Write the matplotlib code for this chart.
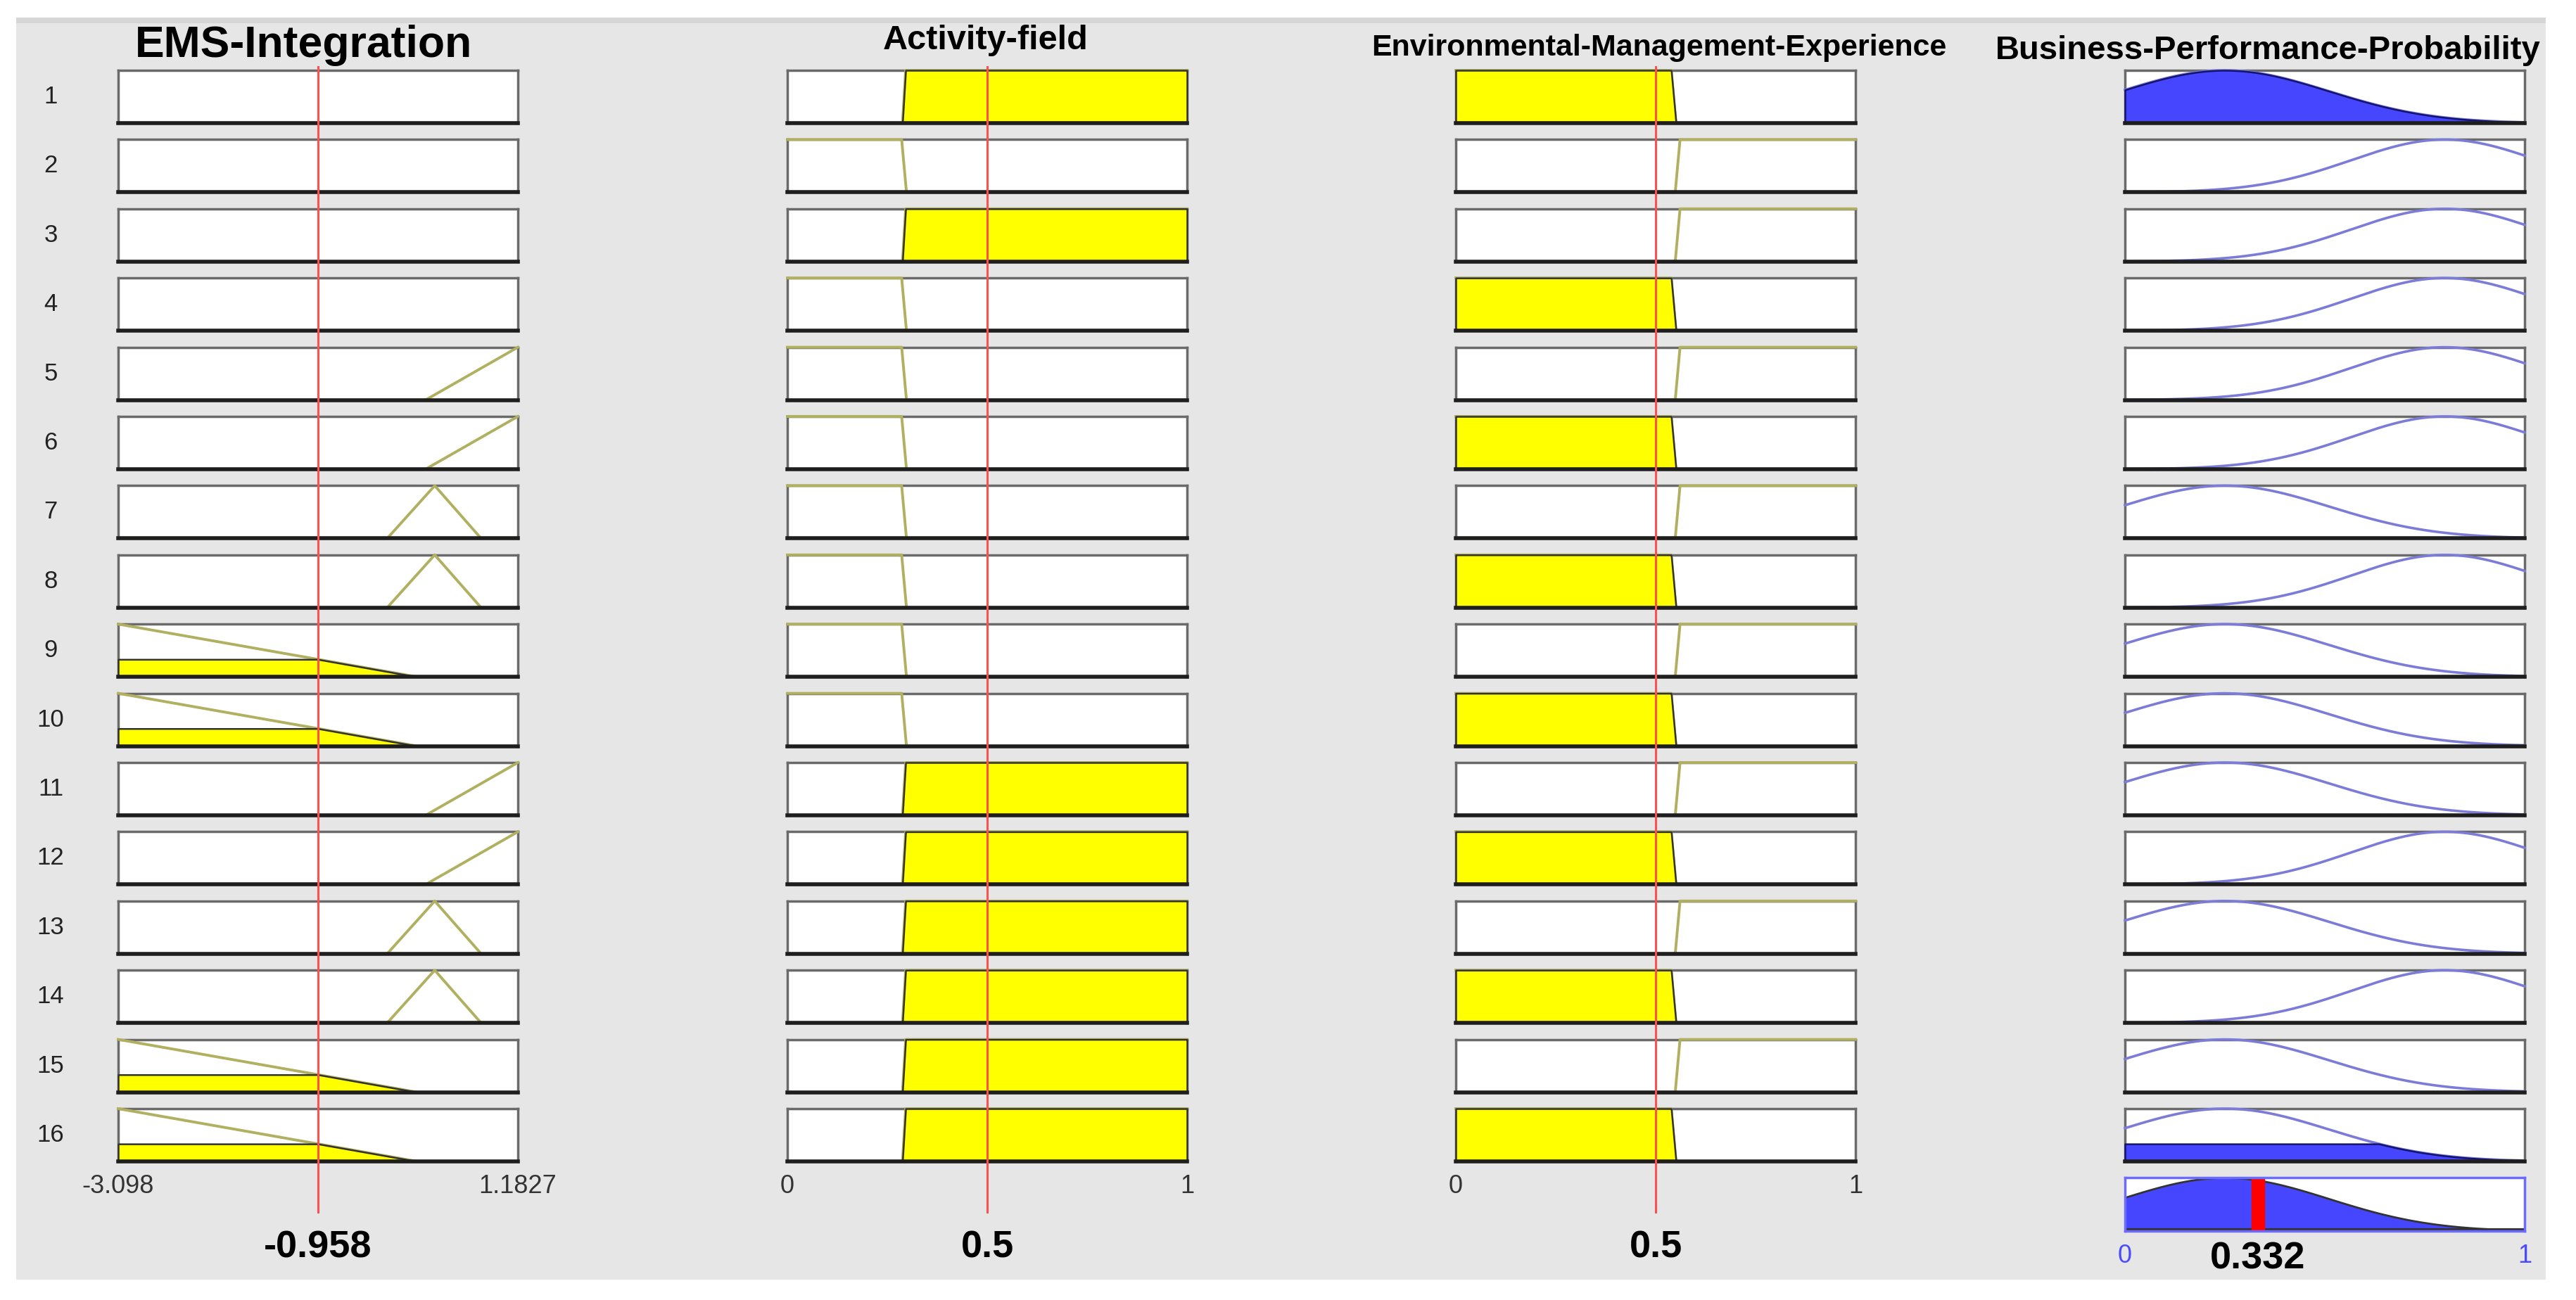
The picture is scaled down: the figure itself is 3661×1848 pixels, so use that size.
import numpy as np
import matplotlib
matplotlib.use('Agg')
from matplotlib import pyplot as plt
from matplotlib.patches import Rectangle

plt.rcParams['font.family'] = ['Liberation Sans', 'DejaVu Sans']

W, H = 3662, 1848

### variables of the fuzzy system
var_names = ['EMS-Integration', 'Activity-field',
             'Environmental-Management-Experience', 'Business-Performance-Probability']
ranges = [(-3.098, 1.1827), (0, 1), (0, 1), (0, 1)]
tick_text = [['-3.098', '1.1827'], ['0', '1'], ['0', '1'], ['0', '1']]
inputs = [-0.958, 0.5, 0.5]
input_text = ['-0.958', '0.5', '0.5']
output_value = 0.332
output_text = '0.332'

### membership functions
ems_mfs = {1: ('tri', [-7.3, -3.098, 0.104]),
           2: ('tri', [-0.217, 0.292, 0.789]),
           3: ('tri', [0.194, 1.1827, 2.17])}
act_mfs = {1: ('trap', [-1, 0, 0.286, 0.298]),
           2: ('trap', [0.288, 0.296, 1, 2])}
env_mfs = {1: ('trap', [-1, 0, 0.539, 0.551]),
           2: ('trap', [0.549, 0.561, 1, 2])}
out_mfs = {1: ('gauss', [0.26, 0.25]),
           2: ('gauss', [0.235, 0.80])}

### rule base, 0 = input not used in the rule
rule_ems = [0, 0, 0, 0, 3, 3, 2, 2, 1, 1, 3, 3, 2, 2, 1, 1]
rule_act = [2, 1, 2, 1, 1, 1, 1, 1, 1, 1, 2, 2, 2, 2, 2, 2]
rule_env = [1, 2, 2, 1, 2, 1, 2, 1, 2, 1, 2, 1, 2, 1, 2, 1]
rule_out = [1, 2, 2, 2, 2, 2, 1, 2, 1, 1, 1, 2, 1, 2, 1, 1]


def mf(kind, p, x):
    x = np.asarray(x, float)
    if kind == 'tri':
        a, b, c = p
        return np.clip(np.minimum((x - a) / (b - a), (c - x) / (c - b)), 0, 1)
    if kind == 'trap':
        a, b, c, d = p
        return np.clip(np.minimum(np.minimum((x - a) / (b - a), 1), (d - x) / (d - c)), 0, 1)
    s, c = p
    return np.exp(-(x - c) ** 2 / (2 * s * s))


def grid(lo, hi, p):
    xs = np.linspace(lo, hi, 800)
    extra = [v for v in p if lo < v < hi]
    return np.unique(np.concatenate([xs, extra]))


fig = plt.figure(figsize=(W / 100, H / 100), dpi=100)
fig.patch.set_facecolor('white')
fig.add_artist(Rectangle((23 / W, 1 - 1819 / H), (3618 - 23) / W, (1819 - 25) / H,
                         transform=fig.transFigure, facecolor='#e6e6e6',
                         edgecolor='none', zorder=-10))
fig.add_artist(Rectangle((23 / W, 1 - 33 / H), (3618 - 23) / W, 8 / H,
                         transform=fig.transFigure, facecolor='#d6d6d6',
                         edgecolor='none', zorder=-9))

col_left = [168, 1119, 2069, 3020]
box_w = 568
row_top0 = 100
row_step = 98.4
box_h = 75
agg_top = 1674
agg_h = 76


def add_px_axes(x, y_top, w, h):
    return fig.add_axes([x / W, 1 - (y_top + h) / H, w / W, h / H])


def style_box(ax, lo, hi, edge='#6a6a6a'):
    ax.set_xlim(lo, hi)
    ax.set_ylim(0, 1)
    ax.set_xticks([])
    ax.set_yticks([])
    ax.set_facecolor('white')
    for s in ax.spines.values():
        s.set_color(edge)
        s.set_linewidth(2.5)
    ax.spines['bottom'].set_visible(False)
    ax.axhline(0, color='#1e1e1e', lw=4, clip_on=False, zorder=6)


in_mfs = [ems_mfs, act_mfs, env_mfs]
in_rules = [rule_ems, rule_act, rule_env]
agg_x = grid(0, 1, [])
agg = np.zeros_like(agg_x)

for i in range(16):
    top = row_top0 + i * row_step
    fig.text(72 / W, 1 - (top + box_h / 2) / H, str(i + 1), ha='center', va='center',
             fontsize=25, color='#222222')
    strength = 1.0
    for j in range(3):
        lo, hi = ranges[j]
        ax = add_px_axes(col_left[j], top, box_w, box_h)
        style_box(ax, lo, hi)
        k = in_rules[j][i]
        if k == 0:
            continue
        kind, p = in_mfs[j][k]
        xs = grid(lo, hi, p)
        y = mf(kind, p, xs)
        deg = float(mf(kind, p, inputs[j]))
        strength = min(strength, deg)
        ax.plot(xs, y, color='#b0b060', lw=2.8, clip_on=False, zorder=3)
        if deg > 0:
            ax.fill_between(xs, 0, np.minimum(y, deg), facecolor='#ffff00',
                            edgecolor='#333333', lw=1.8, clip_on=False, zorder=4)
    # consequent
    lo, hi = ranges[3]
    ax = add_px_axes(col_left[3], top, box_w, box_h)
    style_box(ax, lo, hi)
    kind, p = out_mfs[rule_out[i]]
    xs = grid(lo, hi, p)
    yo = mf(kind, p, xs)
    ax.plot(xs, yo, color='#7c7cd8', lw=2.6, clip_on=False, zorder=3)
    if strength > 0:
        ax.fill_between(xs, 0, np.minimum(yo, strength), facecolor='#4646ff',
                        edgecolor='#14146e', lw=1.8, clip_on=False, zorder=4)
    agg = np.maximum(agg, np.minimum(mf(kind, p, agg_x), strength))

# tick labels under the last rule row of each input
for j in range(3):
    lo, hi = ranges[j]
    ax = fig.add_axes([col_left[j] / W, 1 - (row_top0 + 15 * row_step + box_h) / H,
                       box_w / W, box_h / H])
    ax.set_xlim(lo, hi)
    ax.set_yticks([])
    ax.patch.set_alpha(0)
    for s in ax.spines.values():
        s.set_visible(False)
    ax.set_xticks([lo, hi])
    ax.set_xticklabels(tick_text[j])
    ax.tick_params(axis='x', length=0, pad=13, labelsize=26, labelcolor='#333333')

# aggregated output
ax = add_px_axes(col_left[3], agg_top, box_w, agg_h)
ax.set_xlim(0, 1)
ax.set_ylim(0, 1)
ax.set_facecolor('white')
for s in ax.spines.values():
    s.set_color('#6b6bff')
    s.set_linewidth(2.5)
ax.fill_between(agg_x, 0, agg, facecolor='#4646ff', edgecolor='#333333', lw=2, clip_on=False)
ax.plot([0, 1], [0.02, 0.02], color='#333333', lw=3)
ax.axvline(output_value, color='#ff0000', lw=14, ymin=0.02, ymax=0.98)
ax.set_yticks([])
ax.set_xticks([0, 1])
ax.set_xticklabels(tick_text[3])
ax.tick_params(axis='x', length=0, pad=13, labelsize=26, labelcolor='#4a4aff')
ax.text(output_value, (agg_top + agg_h - 1790) / agg_h, output_text, ha='center', va='center',
        fontsize=39, fontweight='bold', transform=ax.get_xaxis_transform())

# red input lines and values
line_top, line_bot = 94, 1725
for j in range(3):
    lo, hi = ranges[j]
    ov = add_px_axes(col_left[j], line_top, box_w, line_bot - line_top)
    ov.set_xlim(lo, hi)
    ov.set_ylim(0, 1)
    ov.axis('off')
    ov.axvline(inputs[j], color='#ff5050', lw=2.2)
    ov.text(inputs[j], (line_bot - 1774) / (line_bot - line_top), input_text[j],
            ha='center', va='center', fontsize=39, fontweight='bold',
            transform=ov.get_xaxis_transform())

# titles
title_pos = [(432, 65, 45), (1401, 58, 35), (2358, 68, 31), (3223, 72, 34)]
for name, (x, y, fs) in zip(var_names, title_pos):
    fig.text(x / W, 1 - y / H, name, ha='center', va='center', fontsize=fs,
             fontweight='bold', color='black')

fig.savefig('out.png', dpi=100, facecolor='white')
